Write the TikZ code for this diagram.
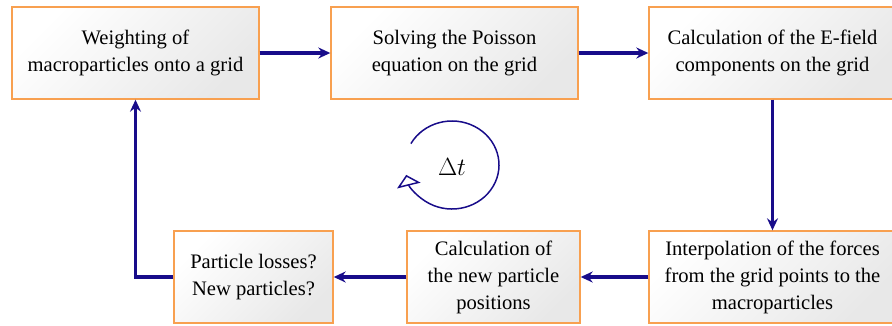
\documentclass[tikz,border=0pt]{standalone}
\usepackage{fontspec}
\setmainfont{Liberation Serif}
\usetikzlibrary{arrows.meta}
\definecolor{navyblue}{RGB}{24,12,138}
\definecolor{boxorange}{RGB}{248,160,80}
\begin{document}
\begin{tikzpicture}[x=1pt,y=-1pt,
  procbox/.style={draw=boxorange, line width=1.4pt, top color=white, bottom color=black!9, shading angle=45,
    minimum height=92pt, inner sep=0pt, align=center, font=\fontsize{20.6}{27}\selectfont},
  flow/.style={draw=navyblue, line width=3.8pt, -{Stealth[length=12pt,width=11pt,inset=4pt]}},
]
\useasboundingbox (0,0) rectangle (892,325);
\clip (0,0) rectangle (892,325);
\node[procbox, minimum width=247pt] (b1) at (135.5,53) {Weighting of\\macroparticles onto a grid};
\node[procbox, minimum width=247pt] (b2) at (454.5,53) {Solving the Poisson\\equation on the grid};
\node[procbox, minimum width=247pt] (b3) at (772.5,53) {Calculation of the E-field\\components on the grid};
\node[procbox, minimum width=247pt] (b4) at (772.5,277) {Interpolation of the forces\\from the grid points to the\\macroparticles};
\node[procbox, minimum width=173pt] (b5) at (493.5,277) {Calculation of\\the new particle\\positions};
\node[procbox, minimum width=159pt] (b6) at (253.5,277) {Particle losses?\\New particles?};
\draw[flow] (b1) -- (b2);
\draw[flow] (b2) -- (b3);
\draw[flow] (b3) -- (b4);
\draw[flow] (b4) -- (b5);
\draw[flow] (b5) -- (b6);
\draw[flow] (b6.west) -| (b1.south);
\node (dt) at (452,167) {\fontsize{23}{27}\selectfont$\Delta t$};
\draw[draw=navyblue, line width=1.5pt, -{Triangle[open, length=11pt, width=24pt, line width=1.5pt]}]
  (452,165) ++(151:47pt and 44pt) arc[start angle=151, end angle=-167, x radius=47pt, y radius=44pt];
\end{tikzpicture}
\end{document}
